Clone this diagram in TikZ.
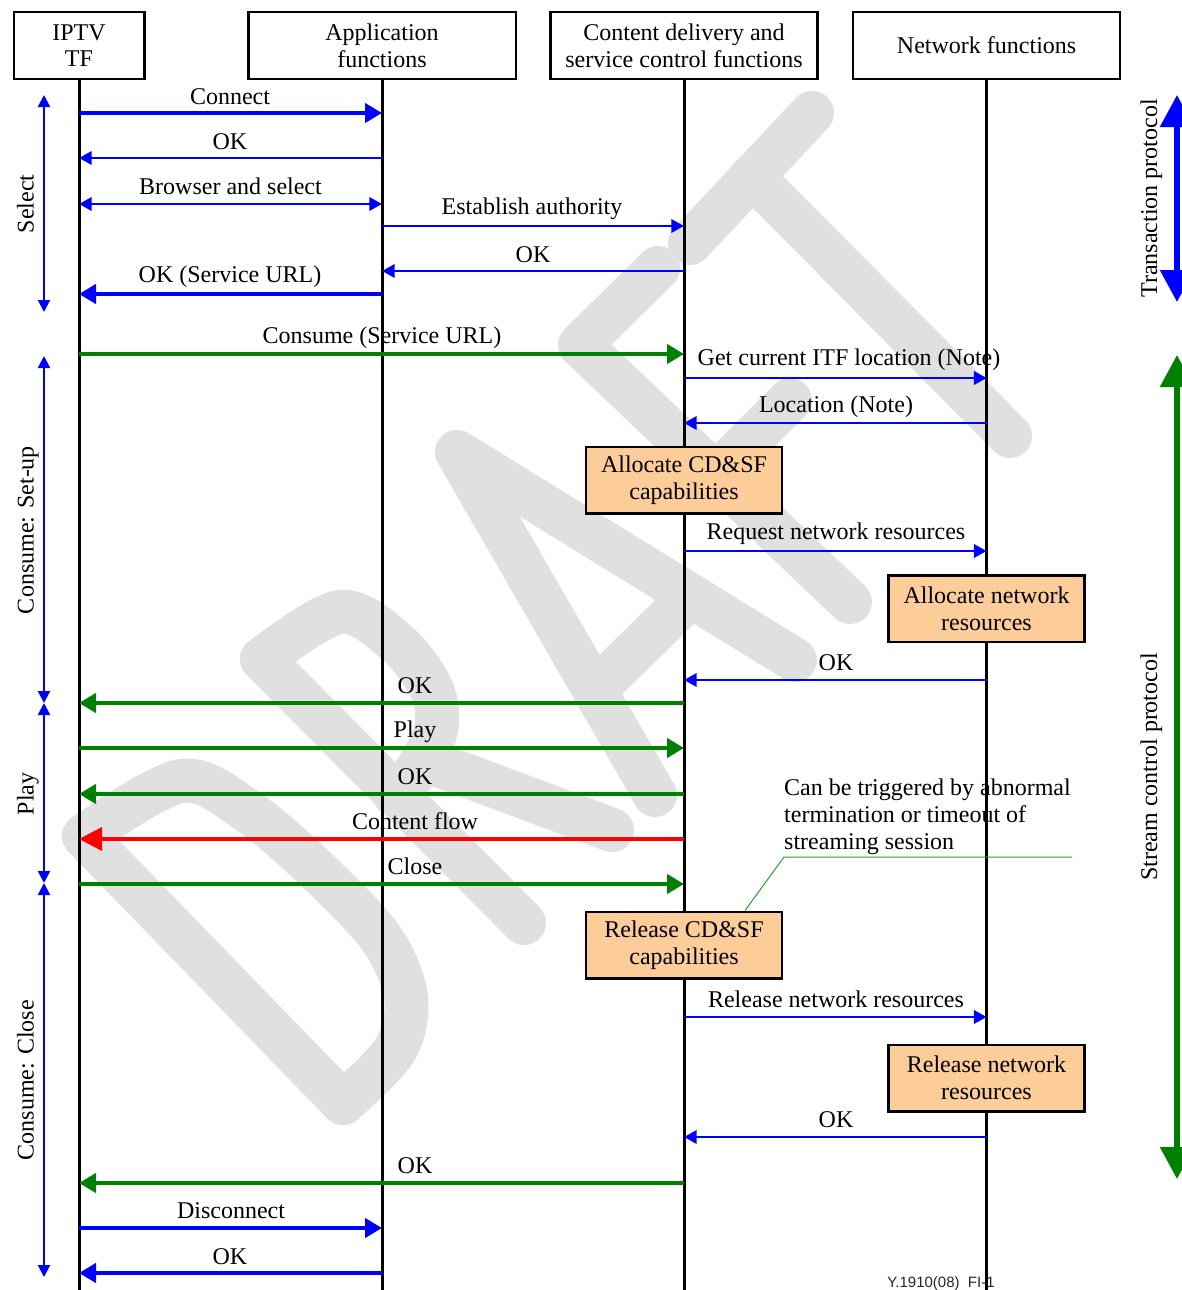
\documentclass[tikz,border=0pt]{standalone}
\usepackage{fontspec}
\setmainfont{Liberation Serif}
\newfontfamily\footfont{Liberation Sans}
\usetikzlibrary{arrows.meta}
\definecolor{cblue}{RGB}{0,0,255}
\definecolor{cgreen}{RGB}{0,128,0}
\definecolor{cred}{RGB}{255,0,0}
\definecolor{boxfill}{RGB}{252,204,153}
\definecolor{wmc}{RGB}{224,224,224}
\definecolor{notegreen}{RGB}{40,160,40}
\tikzset{
  every node/.style={font=\fontsize{24}{26.6}\selectfont},
  bigtip/.tip={Triangle[length=17pt,width=19pt]},
  smalltip/.tip={Triangle[length=12.7pt,width=13.3pt]},
  redtip/.tip={Triangle[length=23pt,width=23pt]},
  sidetip/.tip={Triangle[length=12pt,width=12pt]},
  protip/.tip={Triangle[length=32pt,width=33pt]},
  hdr/.style={draw, line width=2.5pt, align=center, inner sep=0pt, minimum height=66.5pt},
  proc/.style={draw, fill=boxfill, line width=2.5pt, align=center, inner sep=0pt,
               minimum width=196pt, minimum height=66.5pt},
  lbl/.style={anchor=base, inner sep=0pt},
  life/.style={line width=3pt},
  bthick/.style={cblue, line width=4.2pt},
  bthin/.style={cblue, line width=2.7pt},
  gthick/.style={cgreen, line width=4.2pt},
  rthick/.style={cred, line width=3.5pt},
  side/.style={cblue, line width=2pt, sidetip-sidetip},
  wmark/.style={draw=wmc, line width=44pt, line cap=round, line join=round},
  noteline/.style={notegreen, line width=1pt}
}
\newcommand\msgline[4]{\draw[#4] (#1 |- 0,#3) -- (#2 |- 0,#3);}
\begin{document}
\begin{tikzpicture}[x=1pt,y=-1pt]
\useasboundingbox (0,0) rectangle (1182,1290);
\fill[white] (0,0) rectangle (1182,1290);

% watermark
\begin{scope}[wmark]
  % D
  \draw (84,836) -- (343,1103);
  \draw plot[smooth, tension=0.55] coordinates {(84,836) (181,781) (249,812) (325,878) (383,941) (406,998) (395,1050) (343,1103)};
  % R
  \draw (262,659) -- (524,923);
  \draw plot[smooth, tension=0.55] coordinates {(262,659) (340,612) (397,643) (432,690) (436,730) (418,768) (395,795)};
  \draw (425,760) -- (612,830);
  % A
  \draw (655,795) -- (457,452) -- (795,660);
  \draw (595,690) -- (690,597);
  % F
  \draw (658,268) -- (580,345) -- (850,602);
  \draw (715,475) -- (790,400);
  % T
  \draw (690,243) -- (812,113);
  \draw (752,176) -- (1010,436);
\end{scope}

% header boxes
\node[hdr, minimum width=130.5pt] (iptv) at (79,45.5) {IPTV\\TF};
\node[hdr, minimum width=267.5pt] (app) at (382,45.5) {Application\\functions};
\node[hdr, minimum width=267pt] (cd) at (684,45.5) {Content delivery and\\service control functions};
\node[hdr, minimum width=267pt] (net) at (986.6,45.5) {Network functions};

% footer
\node[font=\footfont\fontsize{15}{15}\selectfont, text=black!85, anchor=base, inner sep=0pt] (foot) at (941,1287) {Y.1910(08)\ \ FI-1};

% lifelines
\foreach \n in {iptv,app,cd,net}
  \draw[life] (\n.south) -- (\n |- 0,1292);

% messages
\msgline{iptv}{app}{113}{bthick,-bigtip}
\node[lbl] at (230,104) {Connect};
\msgline{app}{iptv}{158}{bthin,-smalltip}
\node[lbl] at (230,149) {OK};
\msgline{iptv}{app}{204}{bthin,smalltip-smalltip}
\node[lbl] at (230.5,194) {Browser and select};
\msgline{app}{cd}{226}{bthin,-smalltip}
\node[lbl] at (532,214) {Establish authority};
\msgline{cd}{app}{271}{bthin,-smalltip}
\node[lbl] at (533,262) {OK};
\msgline{app}{iptv}{294}{bthick,-bigtip}
\node[lbl] at (230,282) {OK (Service URL)};
\msgline{iptv}{cd}{354}{gthick,-bigtip}
\node[lbl] at (382,343) {Consume (Service URL)};
\msgline{cd}{net}{378}{bthin,-smalltip}
\node[lbl] at (849,365) {Get current ITF location (Note)};
\msgline{net}{cd}{423}{bthin,-smalltip}
\node[lbl] at (836,412) {Location (Note)};

\node[proc] (acd) at (684,480) {Allocate CD\&SF\\capabilities};

\msgline{cd}{net}{551}{bthin,-smalltip}
\node[lbl] at (836,539) {Request network resources};

\node[proc] (anet) at (986.5,608.5) {Allocate network\\resources};

\msgline{net}{cd}{680}{bthin,-smalltip}
\node[lbl] at (836,670) {OK};
\msgline{cd}{iptv}{703}{gthick,-bigtip}
\node[lbl] at (415,693) {OK};
\msgline{iptv}{cd}{748}{gthick,-bigtip}
\node[lbl] at (415,737) {Play};
\msgline{cd}{iptv}{794}{gthick,-bigtip}
\node[lbl] at (415,784) {OK};
\msgline{cd}{iptv}{839}{rthick,-redtip}
\node[lbl] at (415,829) {Content flow};
\msgline{iptv}{cd}{884}{gthick,-bigtip}
\node[lbl] at (415,874) {Close};

\node[proc] (rcd) at (684,945) {Release CD\&SF\\capabilities};

\msgline{cd}{net}{1017}{bthin,-smalltip}
\node[lbl] at (836,1007) {Release network resources};

\node[proc] (rnet) at (986.5,1078) {Release network\\resources};

\msgline{net}{cd}{1137}{bthin,-smalltip}
\node[lbl] at (836,1127) {OK};
\msgline{cd}{iptv}{1183}{gthick,-bigtip}
\node[lbl] at (415,1173) {OK};
\msgline{iptv}{app}{1228}{bthick,-bigtip}
\node[lbl] at (231,1218) {Disconnect};
\msgline{app}{iptv}{1273}{bthick,-bigtip}
\node[lbl] at (230,1264) {OK};

% note
\node[align=left, anchor=base west, inner sep=0pt] (note) at (784,849)
  {Can be triggered by abnormal\\termination or timeout of\\streaming session};
\coordinate (nl) at (784,857);
\coordinate (nr) at (1072,857);
\draw[noteline] (nr) -- (nl) -- (rcd.north -| 745,0);

% left phase brackets
\coordinate (s1) at (44,95);   \coordinate (s2) at (44,312);
\coordinate (u1) at (44,356);  \coordinate (u2) at (44,703);
\coordinate (p1) at (44,703);  \coordinate (p2) at (44,883);
\coordinate (c1) at (44,883);  \coordinate (c2) at (44,1277);
\draw[side] (s1) -- (s2);
\draw[side] (u1) -- (u2);
\draw[side] (p1) -- (p2);
\draw[side] (c1) -- (c2);
\node[lbl, rotate=90] at (33.5,204) {Select};
\node[lbl, rotate=90] at (33.5,530) {Consume: Set-up};
\node[lbl, rotate=90] at (33.5,794) {Play};
\node[lbl, rotate=90] at (33.5,1080) {Consume: Close};

% right protocol arrows
\coordinate (t1) at (1177,95);  \coordinate (t2) at (1177,302);
\coordinate (g1) at (1177,355); \coordinate (g2) at (1177,1179);
\draw[cblue, line width=5.5pt, protip-protip] (t1) -- (t2);
\draw[cgreen, line width=5.5pt, protip-protip] (g1) -- (g2);
\node[lbl, rotate=90] at (1157,198.5) {Transaction protocol};
\node[lbl, rotate=90] at (1157,767) {Stream control protocol};
\end{tikzpicture}
\end{document}
